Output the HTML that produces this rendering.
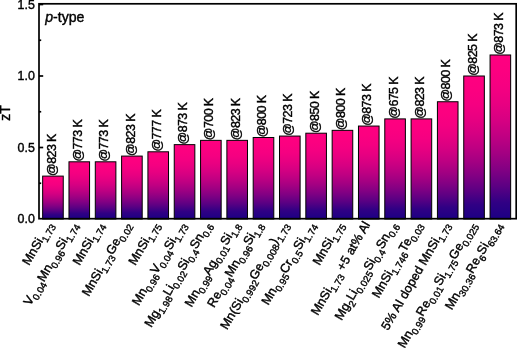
<!DOCTYPE html>
<html><head><meta charset="utf-8"><style>
html,body{margin:0;padding:0;background:#fff;width:517px;height:348px;overflow:hidden}
svg{display:block;font-family:"Liberation Sans",sans-serif}
</style></head><body>
<svg width="517" height="348" viewBox="0 0 517 348">
<defs><linearGradient id="g" x1="0" y1="0" x2="0" y2="1">
<stop offset="0.00" stop-color="rgb(255,0,128)"/>
<stop offset="0.10" stop-color="rgb(252,0,128)"/>
<stop offset="0.20" stop-color="rgb(245,0,129)"/>
<stop offset="0.30" stop-color="rgb(232,0,129)"/>
<stop offset="0.40" stop-color="rgb(214,0,130)"/>
<stop offset="0.50" stop-color="rgb(191,0,130)"/>
<stop offset="0.60" stop-color="rgb(163,0,130)"/>
<stop offset="0.70" stop-color="rgb(130,0,131)"/>
<stop offset="0.80" stop-color="rgb(92,0,131)"/>
<stop offset="0.90" stop-color="rgb(48,0,132)"/>
<stop offset="1.00" stop-color="rgb(28,0,132)"/>
</linearGradient><filter id="gs" x="0" y="0" width="517" height="348" filterUnits="userSpaceOnUse"><feColorMatrix type="saturate" values="0"/></filter></defs>

<rect x="42.65" y="176.10" width="20.60" height="42.90" fill="url(#g)" stroke="#000" stroke-width="1"/>
<rect x="68.97" y="161.80" width="20.60" height="57.20" fill="url(#g)" stroke="#000" stroke-width="1"/>
<rect x="95.29" y="161.80" width="20.60" height="57.20" fill="url(#g)" stroke="#000" stroke-width="1"/>
<rect x="121.60" y="156.08" width="20.60" height="62.92" fill="url(#g)" stroke="#000" stroke-width="1"/>
<rect x="147.92" y="151.79" width="20.60" height="67.21" fill="url(#g)" stroke="#000" stroke-width="1"/>
<rect x="174.24" y="144.64" width="20.60" height="74.36" fill="url(#g)" stroke="#000" stroke-width="1"/>
<rect x="200.56" y="140.35" width="20.60" height="78.65" fill="url(#g)" stroke="#000" stroke-width="1"/>
<rect x="226.88" y="140.35" width="20.60" height="78.65" fill="url(#g)" stroke="#000" stroke-width="1"/>
<rect x="253.19" y="137.49" width="20.60" height="81.51" fill="url(#g)" stroke="#000" stroke-width="1"/>
<rect x="279.51" y="136.06" width="20.60" height="82.94" fill="url(#g)" stroke="#000" stroke-width="1"/>
<rect x="305.83" y="133.20" width="20.60" height="85.80" fill="url(#g)" stroke="#000" stroke-width="1"/>
<rect x="332.15" y="130.34" width="20.60" height="88.66" fill="url(#g)" stroke="#000" stroke-width="1"/>
<rect x="358.47" y="126.05" width="20.60" height="92.95" fill="url(#g)" stroke="#000" stroke-width="1"/>
<rect x="384.78" y="118.90" width="20.60" height="100.10" fill="url(#g)" stroke="#000" stroke-width="1"/>
<rect x="411.10" y="118.90" width="20.60" height="100.10" fill="url(#g)" stroke="#000" stroke-width="1"/>
<rect x="437.42" y="101.74" width="20.60" height="117.26" fill="url(#g)" stroke="#000" stroke-width="1"/>
<rect x="463.74" y="76.00" width="20.60" height="143.00" fill="url(#g)" stroke="#000" stroke-width="1"/>
<rect x="490.06" y="54.98" width="20.60" height="164.02" fill="url(#g)" stroke="#000" stroke-width="1"/>
<rect x="39.0" y="3.8" width="477.20" height="214.90" fill="none" stroke="#000" stroke-width="1.7"/>
<line x1="39.0" x2="43.20" y1="147.50" y2="147.50" stroke="#000" stroke-width="1.7"/>
<line x1="39.0" x2="43.20" y1="76.00" y2="76.00" stroke="#000" stroke-width="1.7"/>
<line x1="39.0" x2="43.20" y1="4.50" y2="4.50" stroke="#000" stroke-width="1.7"/>
<line x1="39.0" x2="41.20" y1="183.25" y2="183.25" stroke="#000" stroke-width="1.7"/>
<line x1="39.0" x2="41.20" y1="111.75" y2="111.75" stroke="#000" stroke-width="1.7"/>
<line x1="39.0" x2="41.20" y1="40.25" y2="40.25" stroke="#000" stroke-width="1.7"/>
<g filter="url(#gs)" fill="#000" stroke="#000" stroke-width="0.4">
<text x="34.8" y="223.30" font-size="12.4" text-anchor="end">0.0</text>
<text x="34.8" y="151.80" font-size="12.4" text-anchor="end">0.5</text>
<text x="34.8" y="80.30" font-size="12.4" text-anchor="end">1.0</text>
<text x="34.8" y="8.80" font-size="12.4" text-anchor="end">1.5</text>
<text transform="translate(10.4,113) rotate(-90)" font-size="14" text-anchor="middle">zT</text>
<text x="45.2" y="21.7" font-size="14.1"><tspan font-style="italic">p</tspan>-type</text>
<text transform="translate(55.55,175.90) rotate(-90)" font-size="12.5" letter-spacing="-0.6">@823 K</text>
<text transform="translate(81.87,161.60) rotate(-90)" font-size="12.5" letter-spacing="-0.6">@773 K</text>
<text transform="translate(108.19,161.60) rotate(-90)" font-size="12.5" letter-spacing="-0.6">@773 K</text>
<text transform="translate(134.50,155.88) rotate(-90)" font-size="12.5" letter-spacing="-0.6">@823 K</text>
<text transform="translate(160.82,151.59) rotate(-90)" font-size="12.5" letter-spacing="-0.6">@777 K</text>
<text transform="translate(187.14,144.44) rotate(-90)" font-size="12.5" letter-spacing="-0.6">@873 K</text>
<text transform="translate(213.46,140.15) rotate(-90)" font-size="12.5" letter-spacing="-0.6">@700 K</text>
<text transform="translate(239.78,140.15) rotate(-90)" font-size="12.5" letter-spacing="-0.6">@823 K</text>
<text transform="translate(266.09,137.29) rotate(-90)" font-size="12.5" letter-spacing="-0.6">@800 K</text>
<text transform="translate(292.41,135.86) rotate(-90)" font-size="12.5" letter-spacing="-0.6">@723 K</text>
<text transform="translate(318.73,133.00) rotate(-90)" font-size="12.5" letter-spacing="-0.6">@850 K</text>
<text transform="translate(345.05,130.14) rotate(-90)" font-size="12.5" letter-spacing="-0.6">@800 K</text>
<text transform="translate(371.37,125.85) rotate(-90)" font-size="12.5" letter-spacing="-0.6">@873 K</text>
<text transform="translate(397.68,118.70) rotate(-90)" font-size="12.5" letter-spacing="-0.6">@675 K</text>
<text transform="translate(424.00,118.70) rotate(-90)" font-size="12.5" letter-spacing="-0.6">@823 K</text>
<text transform="translate(450.32,101.54) rotate(-90)" font-size="12.5" letter-spacing="-0.6">@800 K</text>
<text transform="translate(476.64,75.80) rotate(-90)" font-size="12.5" letter-spacing="-0.6">@825 K</text>
<text transform="translate(502.96,54.78) rotate(-90)" font-size="12.5" letter-spacing="-0.6">@873 K</text>
<text transform="translate(53.05,224.50) rotate(-60)" font-size="12.5" letter-spacing="0.12" text-anchor="end"><tspan>MnSi</tspan><tspan font-size="9.50" dy="4.00">1.73</tspan></text>
<text transform="translate(77.37,224.50) rotate(-60)" font-size="12.5" letter-spacing="0.12" text-anchor="end"><tspan>V</tspan><tspan font-size="9.50" dy="4.00">0.04</tspan><tspan dy="-4.00">Mn</tspan><tspan font-size="9.50" dy="4.00">0.96</tspan><tspan dy="-4.00">Si</tspan><tspan font-size="9.50" dy="4.00">1.74</tspan></text>
<text transform="translate(103.49,224.50) rotate(-60)" font-size="12.5" letter-spacing="0.12" text-anchor="end"><tspan>MnSi</tspan><tspan font-size="9.50" dy="4.00">1.74</tspan></text>
<text transform="translate(130.60,224.50) rotate(-60)" font-size="12.5" letter-spacing="0.12" text-anchor="end"><tspan>MnSi</tspan><tspan font-size="9.50" dy="4.00">1.73</tspan><tspan dy="-4.00">Ge</tspan><tspan font-size="9.50" dy="4.00">0.02</tspan></text>
<text transform="translate(159.32,224.50) rotate(-60)" font-size="12.5" letter-spacing="0.12" text-anchor="end"><tspan>MnSi</tspan><tspan font-size="9.50" dy="4.00">1.75</tspan></text>
<text transform="translate(185.84,224.50) rotate(-60)" font-size="12.5" letter-spacing="0.12" text-anchor="end"><tspan>Mn</tspan><tspan font-size="9.50" dy="4.00">0.96</tspan><tspan dy="-4.00">V</tspan><tspan font-size="9.50" dy="4.00">0.04</tspan><tspan dy="-4.00">Si</tspan><tspan font-size="9.50" dy="4.00">1.73</tspan></text>
<text transform="translate(211.16,224.50) rotate(-60)" font-size="12.5" letter-spacing="0.12" text-anchor="end"><tspan>Mg</tspan><tspan font-size="9.50" dy="4.00">1.98</tspan><tspan dy="-4.00">Li</tspan><tspan font-size="9.50" dy="4.00">0.02</tspan><tspan dy="-4.00">Si</tspan><tspan font-size="9.50" dy="4.00">0.4</tspan><tspan dy="-4.00">Sn</tspan><tspan font-size="9.50" dy="4.00">0.6</tspan></text>
<text transform="translate(239.48,224.50) rotate(-60)" font-size="12.5" letter-spacing="0.12" text-anchor="end"><tspan>Mn</tspan><tspan font-size="9.50" dy="4.00">0.99</tspan><tspan dy="-4.00">Ag</tspan><tspan font-size="9.50" dy="4.00">0.01</tspan><tspan dy="-4.00">Si</tspan><tspan font-size="9.50" dy="4.00">1.8</tspan></text>
<text transform="translate(262.39,224.50) rotate(-60)" font-size="12.5" letter-spacing="0.12" text-anchor="end"><tspan>Re</tspan><tspan font-size="9.50" dy="4.00">0.04</tspan><tspan dy="-4.00">Mn</tspan><tspan font-size="9.50" dy="4.00">0.96</tspan><tspan dy="-4.00">Si</tspan><tspan font-size="9.50" dy="4.00">1.8</tspan></text>
<text transform="translate(288.21,224.50) rotate(-60)" font-size="12.5" letter-spacing="0.12" text-anchor="end"><tspan>Mn(Si</tspan><tspan font-size="9.50" dy="4.00">0.992</tspan><tspan dy="-4.00">Ge</tspan><tspan font-size="9.50" dy="4.00">0.008</tspan><tspan dy="-4.00">)</tspan><tspan font-size="9.50" dy="4.00">1.73</tspan></text>
<text transform="translate(315.13,224.50) rotate(-60)" font-size="12.5" letter-spacing="0.12" text-anchor="end"><tspan>Mn</tspan><tspan font-size="9.50" dy="4.00">0.95</tspan><tspan dy="-4.00">Cr</tspan><tspan font-size="9.50" dy="4.00">0.5</tspan><tspan dy="-4.00">Si</tspan><tspan font-size="9.50" dy="4.00">1.74</tspan></text>
<text transform="translate(343.45,224.50) rotate(-60)" font-size="12.5" letter-spacing="0.12" text-anchor="end"><tspan>MnSi</tspan><tspan font-size="9.50" dy="4.00">1.75</tspan></text>
<text transform="translate(370.57,224.50) rotate(-60)" font-size="12.5" letter-spacing="0.12" text-anchor="end"><tspan>MnSi</tspan><tspan font-size="9.50" dy="4.00">1.73</tspan><tspan dy="-4.00"> +5 at% Al</tspan></text>
<text transform="translate(397.18,224.50) rotate(-60)" font-size="12.5" letter-spacing="0.12" text-anchor="end"><tspan>Mg</tspan><tspan font-size="9.50" dy="4.00">2</tspan><tspan dy="-4.00">Li</tspan><tspan font-size="9.50" dy="4.00">0.025</tspan><tspan dy="-4.00">Si</tspan><tspan font-size="9.50" dy="4.00">0.4</tspan><tspan dy="-4.00">Sn</tspan><tspan font-size="9.50" dy="4.00">0.6</tspan></text>
<text transform="translate(421.70,224.50) rotate(-60)" font-size="12.5" letter-spacing="0.12" text-anchor="end"><tspan>MnSi</tspan><tspan font-size="9.50" dy="4.00">1.746</tspan><tspan dy="-4.00">Te</tspan><tspan font-size="9.50" dy="4.00">0.03</tspan></text>
<text transform="translate(449.52,224.50) rotate(-60)" font-size="12.5" letter-spacing="0.12" text-anchor="end"><tspan>5% Al doped MnSi</tspan><tspan font-size="9.50" dy="4.00">1.73</tspan></text>
<text transform="translate(476.24,224.50) rotate(-60)" font-size="12.5" letter-spacing="0.12" text-anchor="end"><tspan>Mn</tspan><tspan font-size="9.50" dy="4.00">0.99</tspan><tspan dy="-4.00">Re</tspan><tspan font-size="9.50" dy="4.00">0.01</tspan><tspan dy="-4.00">Si</tspan><tspan font-size="9.50" dy="4.00">1.75</tspan><tspan dy="-4.00">Ge</tspan><tspan font-size="9.50" dy="4.00">0.025</tspan></text>
<text transform="translate(501.46,224.50) rotate(-60)" font-size="12.5" letter-spacing="0.12" text-anchor="end"><tspan>Mn</tspan><tspan font-size="9.50" dy="4.00">30.36</tspan><tspan dy="-4.00">Re</tspan><tspan font-size="9.50" dy="4.00">6</tspan><tspan dy="-4.00">Si</tspan><tspan font-size="9.50" dy="4.00">63.64</tspan></text>
</g>
</svg></body></html>
